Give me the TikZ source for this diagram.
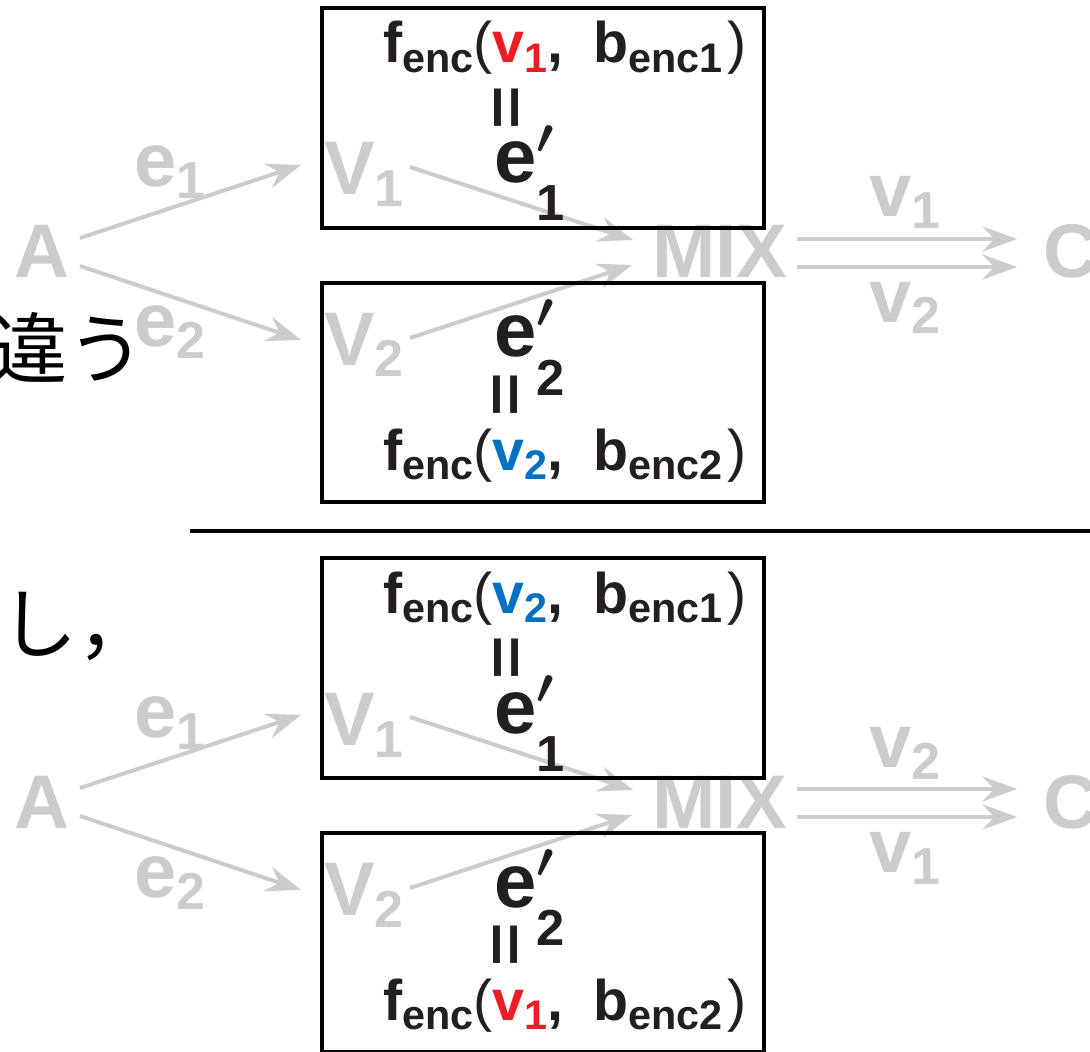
\documentclass[tikz,border=0pt]{standalone}
\usepackage{fontspec}
\setmainfont{Liberation Sans}
\newfontfamily\jpfont{Noto Sans CJK JP}
\usetikzlibrary{arrows.meta,calc}
\definecolor{lgray}{HTML}{CCCCCC}
\definecolor{vred}{HTML}{ED1C24}
\definecolor{vblue}{HTML}{0070C0}
\definecolor{ink}{HTML}{231F20}

\newcommand\gsz{\fontsize{57}{60}\selectfont\bfseries}
\newcommand\gsb[1]{\raisebox{-9pt}{\fontsize{39}{40}\selectfont\bfseries #1}}
\newcommand\fsz{\fontsize{43}{48}\selectfont\bfseries}
\newcommand\fsb[1]{\raisebox{-7pt}{\fontsize{31}{34}\selectfont\bfseries #1}}
\newcommand\fencline[3]{\fsz f\fsb{enc}{\mdseries(}\textcolor{#1}{v\fsb{#2}},\hspace{0.52em}b\fsb{enc#3}\hspace{0.08em}{\mdseries)}}
\newcommand\prm{\scalebox{1.5}{\fontsize{24.88}{25}\selectfont\boldmath$\prime$}}
\newcommand\eprm[1]{\fontsize{57}{60}\selectfont\bfseries e\rlap{\raisebox{22pt}{\prm}}\raisebox{-28.5pt}{\fontsize{38}{40}\selectfont\bfseries #1}}
\newcommand\vereq{\scalebox{1}[0.85]{\fontsize{56}{56}\selectfont\bfseries =}}

\newcommand\drawhalf[8]{%
\begin{scope}[shift={(0,#1)}]
 \node[glbl, anchor=base] (#2A) at (42,278) {A};
 \node[glbl, anchor=base west] (#2e1) at (134,187) {e\gsb{1}};
 \node[glbl, anchor=base west] (#2e2) at (134,347) {e\gsb{2}};
 \node[glbl, anchor=base west] (#2V1) at (324,195) {V\gsb{1}};
 \node[glbl, anchor=base west] (#2V2) at (324,365) {V\gsb{2}};
 \node[glbl, anchor=base west] (#2MIX) at (652,278) {MIX};
 \node[glbl, anchor=base west] (#2C) at (1043,278) {C};
 \node[glbl, anchor=base west] (#2la) at (869,217) {v\gsb{#7}};
 \node[glbl, anchor=base west] (#2lb) at (869,322) {v\gsb{#8}};
 \draw[garrow] ($(#2A.base)+(38,-40)$) -- ($(#2V1.base west)+(-23,-30)$);
 \draw[garrow] ($(#2A.base)+(38,-12)$) -- ($(#2V2.base west)+(-23,-25)$);
 \draw[garrow] ($(#2V1.base west)+(86,-28)$) -- ($(#2MIX.base west)+(-19,-38)$);
 \draw[garrow] ($(#2V2.base west)+(86,-27)$) -- ($(#2MIX.base west)+(-20,-13)$);
 \draw[garrow] ($(#2MIX.base west)+(145,-39)$) -- ($(#2C.base west)+(-26,-39)$);
 \draw[garrow] ($(#2MIX.base west)+(145,-11)$) -- ($(#2C.base west)+(-26,-11)$);
 \draw[box] (322,8) rectangle (764,228);
 \draw[box] (322,283) rectangle (764,502);
 \node[blk, anchor=base west] (#2f1) at (383,63) {\fencline{#3}{#4}{1}};
 \node[blk, rotate=90] (#2q1) at (511,108) {\vereq};
 \node[blk, anchor=base west] (#2p1) at (494,183) {\eprm{1}};
 \node[blk, anchor=base west] (#2p2) at (494,357) {\eprm{2}};
 \node[blk, rotate=90] (#2q2) at (510,395) {\vereq};
 \node[blk, anchor=base west] (#2f2) at (383,470) {\fencline{#5}{#6}{2}};
\end{scope}}

\begin{document}
\begin{tikzpicture}[x=0.75pt,y=-0.75pt,
  glbl/.style={text=lgray, inner sep=0pt, font=\gsz},
  garrow/.style={draw=lgray, line width=3pt, -{Stealth[length=26pt,width=19pt,inset=9pt]}},
  box/.style={draw=black, line width=3pt},
  blk/.style={text=ink, inner sep=0pt},
  jp/.style={text=black, inner sep=0pt, font=\jpfont\fontsize{58}{60}\selectfont}]
\useasboundingbox (0,0) rectangle (1090,1052);
\clip (0,0) rectangle (1090,1052);
\fill[white] (0,0) rectangle (1090,1052);
\drawhalf{0}{u}{vred}{1}{vblue}{2}{1}{2}
\drawhalf{550}{l}{vblue}{2}{vred}{1}{2}{1}
\node[jp, anchor=base east] (jp1) at (145,378) {違う};
\node[jp, anchor=base west] (jp2) at (0,652) {し，};
\draw[line width=3pt] (190,531) -- (1100,531);
\end{tikzpicture}
\end{document}
